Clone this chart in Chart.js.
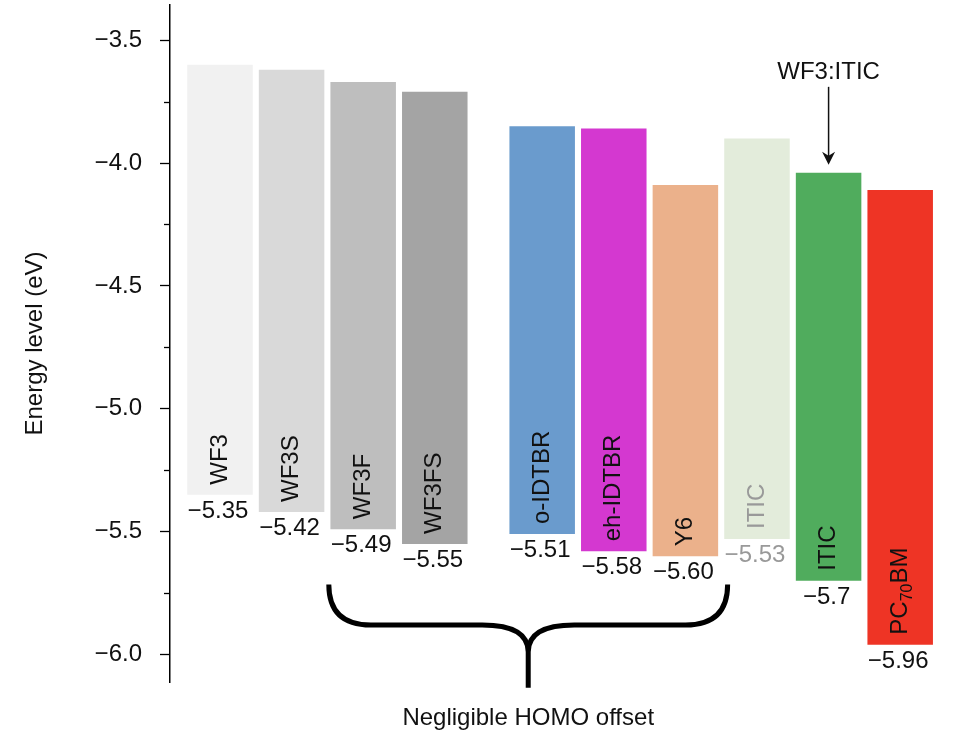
<!DOCTYPE html>
<html>
<head>
<meta charset="utf-8">
<script src="https://cdn.jsdelivr.net/npm/chart.js@4.4.1/dist/chart.umd.min.js"></script>
<style>
  html, body { margin: 0; padding: 0; background: #fff; overflow: hidden; }
  #wrap { width: 955px; height: 731px; position: relative; }
</style>
</head>
<body>
<div id="wrap"><canvas id="levels"></canvas></div>
<script>
// Frontier orbital energies (eV): LUMO on top, HOMO at the bottom of each bar
const materials = ['WF3', 'WF3S', 'WF3F', 'WF3FS', 'o-IDTBR', 'eh-IDTBR', 'Y6', 'ITIC', 'ITIC', 'PC_70BM'];
const roles = ['donor', 'donor', 'donor', 'donor', 'acceptor', 'acceptor', 'acceptor', 'acceptor', 'acceptor', 'acceptor'];
const lumo = [-3.60, -3.62, -3.67, -3.71, -3.85, -3.86, -4.09, -3.90, -4.04, -4.11];
const homoLabels = ['-5.35', '-5.42', '-5.49', '-5.55', '-5.51', '-5.58', '-5.60', '-5.53', '-5.7', '-5.96'];
const energyTicks = [-3.5, -4.0, -4.5, -5.0, -5.5, -6.0];

const homo = homoLabels.map(Number);

const barColors = ['#f1f1f1', '#d9d9d9', '#bebebe', '#a4a4a4', '#6a9bcd', '#d438d0', '#ebb18b', '#e3ecdb', '#50ac5d', '#ee3425'];
const textColors = ['#111', '#111', '#111', '#111', '#111', '#111', '#111', '#999', '#111', '#111'];

const FONT = "'Liberation Sans', Arial, Helvetica, sans-serif";
Chart.defaults.font.family = FONT;
Chart.defaults.color = '#111';

// donors and acceptors are separated by half a slot
const slot = i => i + (roles[i] === 'acceptor' ? 0.5 : 0);
const bars = materials.map((m, i) => ({ x: slot(i), y: [homo[i], lumo[i]] }));

const isMajor = v => energyTicks.some(t => Math.abs(t - v) < 1e-6);
const minus = s => s.replace('-', '\u2212');

// the blended acceptor that gets the arrow
const blend = { text: 'WF3:ITIC', index: 8 };
// brace spanning the materials with negligible HOMO offset
const brace = { from: 1.52, to: 7.09, top: -5.715, mid: -5.88, tip: -6.135, text: 'Negligible HOMO offset' };

function drawRotatedName(ctx, name) {
  // "_NN" marks a subscript
  const parts = name.split(/_(\d+)/);
  let off = 0;
  parts.forEach((p, k) => {
    if (!p) return;
    const sub = k % 2 === 1;
    ctx.font = (sub ? '16px ' : '24px ') + FONT;
    ctx.fillText(p, off, sub ? 7 : 0);
    off += ctx.measureText(p).width;
  });
}

const annotations = {
  id: 'annotations',
  afterDatasetsDraw(chart) {
    const { ctx, chartArea, scales: { x, y } } = chart;
    const meta = chart.getDatasetMeta(0);
    ctx.save();

    // short minor ticks
    ctx.strokeStyle = '#000';
    ctx.lineWidth = 1.3;
    y.ticks.forEach(t => {
      if (isMajor(t.value)) return;
      const py = Math.round(y.getPixelForValue(t.value)) + 0.5;
      ctx.beginPath();
      ctx.moveTo(chartArea.left - 6, py);
      ctx.lineTo(chartArea.left, py);
      ctx.stroke();
    });

    meta.data.forEach((bar, i) => {
      const bottom = y.getPixelForValue(homo[i]);
      ctx.fillStyle = textColors[i];
      // material name, reading upwards from the bar's base
      ctx.save();
      ctx.translate(bar.x, bottom - 10);
      ctx.rotate(-Math.PI / 2);
      ctx.textAlign = 'left';
      ctx.textBaseline = 'middle';
      drawRotatedName(ctx, materials[i]);
      ctx.restore();
      // HOMO value under the bar
      ctx.font = '24px ' + FONT;
      ctx.textAlign = 'center';
      ctx.textBaseline = 'alphabetic';
      ctx.fillText(minus(homoLabels[i]), bar.x - 2, bottom + 23);
    });

    // arrow to the blend
    const target = meta.data[blend.index];
    const top = y.getPixelForValue(lumo[blend.index]);
    const ax = target.x;
    ctx.fillStyle = '#111';
    ctx.font = '24px ' + FONT;
    ctx.textAlign = 'center';
    ctx.fillText(blend.text, ax, top - 94);
    ctx.strokeStyle = '#111';
    ctx.lineWidth = 1.5;
    ctx.beginPath();
    ctx.moveTo(ax, top - 86);
    ctx.lineTo(ax, top - 16);
    ctx.stroke();
    ctx.beginPath();
    ctx.moveTo(ax, top - 8);
    ctx.lineTo(ax - 6.5, top - 21);
    ctx.lineTo(ax, top - 17);
    ctx.lineTo(ax + 6.5, top - 21);
    ctx.closePath();
    ctx.fill();

    // brace
    const L = x.getPixelForValue(brace.from);
    const R = x.getPixelForValue(brace.to);
    const C = (L + R) / 2;
    const yt = y.getPixelForValue(brace.top);
    const ym = y.getPixelForValue(brace.mid);
    const yb = y.getPixelForValue(brace.tip);
    const r = 42;
    ctx.strokeStyle = '#000';
    ctx.lineWidth = 5;
    ctx.lineCap = 'butt';
    ctx.lineJoin = 'round';
    ctx.beginPath();
    ctx.moveTo(L, yt);
    ctx.quadraticCurveTo(L, ym, L + r, ym);
    ctx.lineTo(C - 46, ym);
    ctx.quadraticCurveTo(C, ym, C, ym + 27);
    ctx.lineTo(C, yb);
    ctx.moveTo(C, ym + 27);
    ctx.quadraticCurveTo(C, ym, C + 46, ym);
    ctx.lineTo(R - r, ym);
    ctx.quadraticCurveTo(R, ym, R, yt);
    ctx.stroke();

    ctx.fillStyle = '#111';
    ctx.textAlign = 'center';
    ctx.fillText(brace.text, C, yb + 37);
    ctx.restore();
  }
};

new Chart(document.getElementById('levels'), {
  type: 'bar',
  data: {
    datasets: [{
      data: bars,
      backgroundColor: barColors,
      borderWidth: 0,
      borderSkipped: false,
      barPercentage: 0.915,
      categoryPercentage: 1.0
    }]
  },
  options: {
    responsive: true,
    maintainAspectRatio: false,
    animation: false,
    layout: { padding: { top: 5, right: 15, bottom: 49, left: 0 } },
    plugins: { legend: { display: false }, tooltip: { enabled: false } },
    scales: {
      x: {
        type: 'linear',
        display: false,
        offset: false,
        min: -0.698,
        max: 10.056,
        ticks: { stepSize: 1, includeBounds: false }
      },
      y: {
        min: -6.112,
        max: -3.357,
        afterFit(scale) {
          scale.width = 170;
          scale.paddingTop = 0;
          scale.paddingBottom = 0;
        },
        border: { display: true, color: '#000', width: 1.5 },
        grid: {
          display: true,
          drawOnChartArea: false,
          drawTicks: true,
          tickLength: 10,
          tickWidth: 1.3,
          tickColor: c => (c.tick && isMajor(c.tick.value)) ? '#000' : 'rgba(0,0,0,0)'
        },
        ticks: {
          stepSize: 0.25,
          includeBounds: false,
          autoSkip: false,
          padding: 18,
          color: '#111',
          font: { size: 24 },
          callback: v => isMajor(v) ? minus(Number(v).toFixed(1)) : ''
        },
        title: {
          display: true,
          text: 'Energy level (eV)',
          color: '#111',
          font: { size: 24 },
          padding: { top: 21, bottom: 0 }
        }
      }
    }
  },
  plugins: [annotations]
});
</script>
</body>
</html>
